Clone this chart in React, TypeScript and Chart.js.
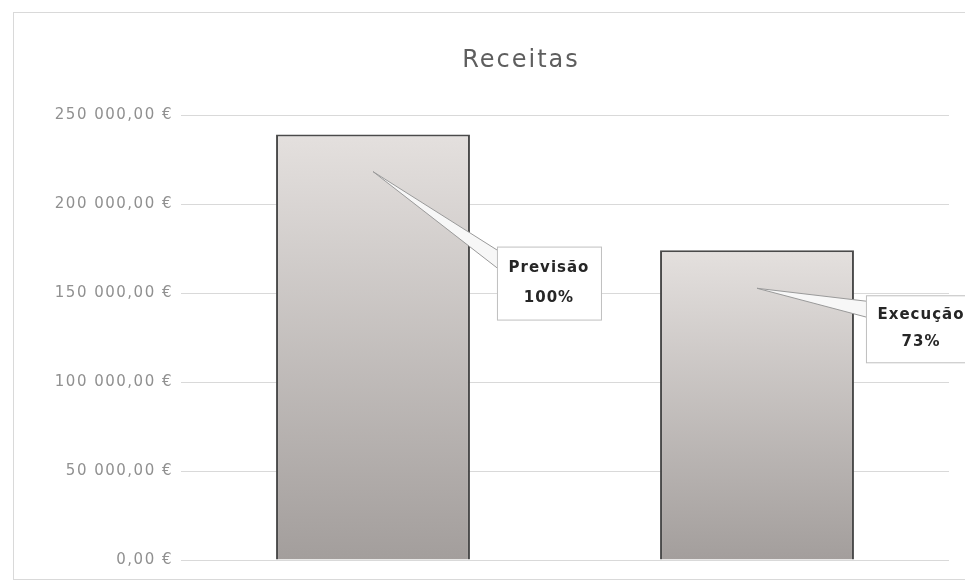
import React, { useEffect, useRef } from "react";
import { Chart, registerables } from "chart.js";

Chart.register(...registerables);

const categories = ["Previsão", "Execução"];
const values = [239000, 174000];
const yTicks = [0, 50000, 100000, 150000, 200000, 250000];
const titleText = "Receitas";

function formatEuro(n: number): string {
  const [intPart, dec] = n.toFixed(2).split(".");
  const withSep = intPart.replace(/\B(?=(\d{3})+(?!\d))/g, " ");
  return `${withSep},${dec} €`;
}

// callout box placement relative to each bar (styling only)
const calloutStyle = [
  { anchorDy: 37, boxDx: 27, boxDy: 112, w: 104, h: 73, baseA: 4, baseB: 22 },
  { anchorDy: 38, boxDx: 12, boxDy: 45, w: 110, h: 67, baseA: 6, baseB: 22 },
];

const decorPlugin = {
  id: "decor",
  beforeDraw(chart: any) {
    const ctx = chart.ctx;
    ctx.save();
    ctx.fillStyle = "#ffffff";
    ctx.fillRect(0, 0, chart.width, chart.height);
    ctx.strokeStyle = "#d9d9d9";
    ctx.lineWidth = 1;
    ctx.strokeRect(13.5, 12.5, chart.width + 10, 567);
    ctx.restore();
    ctx.letterSpacing = "1.5px";
  },
  afterDraw(chart: any) {
    const ctx = chart.ctx;
    ctx.letterSpacing = "0px";
    // Title
    ctx.save();
    ctx.letterSpacing = "2px";
    ctx.font = "24px 'DejaVu Sans'";
    ctx.fillStyle = "#5e5e5e";
    ctx.textAlign = "center";
    ctx.textBaseline = "middle";
    ctx.fillText(titleText, 521, 61);
    ctx.restore();

    // Callouts
    const meta = chart.getDatasetMeta(0);
    const base = values[0];
    meta.data.forEach((bar: any, i: number) => {
      const st = calloutStyle[i];
      const ax = bar.x;
      const ay = bar.y + st.anchorDy;
      const bx = bar.x + bar.width / 2 + st.boxDx;
      const by = bar.y + st.boxDy;
      ctx.save();
      // wedge
      ctx.beginPath();
      ctx.moveTo(ax, ay);
      ctx.lineTo(bx + 1, by + st.baseA);
      ctx.lineTo(bx + 1, by + st.baseB);
      ctx.closePath();
      ctx.fillStyle = "#f7f7f7";
      ctx.fill();
      ctx.strokeStyle = "#9a9a9a";
      ctx.lineWidth = 1;
      ctx.stroke();
      // box
      ctx.fillStyle = "#ffffff";
      ctx.fillRect(bx, by, st.w, st.h);
      ctx.strokeStyle = "#bfbfbf";
      ctx.strokeRect(bx + 0.5, by + 0.5, st.w, st.h);
      // text
      const pct = Math.round((values[i] / base) * 100);
      ctx.fillStyle = "#262626";
      ctx.font = "bold 15px 'DejaVu Sans'";
      ctx.letterSpacing = "1px";
      ctx.textAlign = "center";
      ctx.textBaseline = "middle";
      ctx.fillText(categories[i], bx + st.w / 2, by + st.h * 0.3);
      ctx.fillText(`${pct}%`, bx + st.w / 2, by + st.h * 0.7);
      ctx.restore();
    });
  },
};

export default function App() {
  const ref = useRef<HTMLCanvasElement | null>(null);
  useEffect(() => {
    if (!ref.current) return;
    const chart = new Chart(ref.current, {
      type: "bar",
      data: {
        labels: categories,
        datasets: [
          {
            data: values,
            backgroundColor: (c: any) => {
              const ch = c.chart;
              const area = ch.chartArea;
              if (!area || c.raw == null) return "#c8c4c2";
              const top = ch.scales.y.getPixelForValue(c.raw);
              const g = ch.ctx.createLinearGradient(0, top, 0, area.bottom);
              g.addColorStop(0, "#e4e0de");
              g.addColorStop(1, "#a39e9c");
              return g;
            },
            borderColor: "#4a4a4a",
            borderWidth: 2,
            categoryPercentage: 1,
            barPercentage: 0.505,
          },
        ],
      },
      options: {
        responsive: false,
        animation: false,
        devicePixelRatio: 1,
        layout: { padding: { left: 0, right: 16, top: 115, bottom: 23 } },
        plugins: {
          legend: { display: false },
          title: { display: false },
          tooltip: { enabled: false },
        },
        scales: {
          x: { display: false },
          y: {
            min: 0,
            max: 250000,
            afterBuildTicks: (s: any) => {
              s.ticks = yTicks.map((v) => ({ value: v }));
            },
            afterFit: (s: any) => {
              s.width = 181;
            },
            border: { display: false },
            grid: { color: "#d9d9d9", lineWidth: 1, drawTicks: false },
            ticks: {
              padding: 8,
              color: "#909090",
              font: { family: "'DejaVu Sans'", size: 15 },
              callback: (v: any) => formatEuro(Number(v)),
            },
          },
        },
      },
      plugins: [decorPlugin],
    } as any);
    return () => chart.destroy();
  }, []);
  return (
    <div style={{ position: "fixed", left: 0, top: 0, width: 965, height: 583, background: "#fff" }}>
      <canvas ref={ref} width={965} height={583} style={{ display: "block" }} />
    </div>
  );
}
